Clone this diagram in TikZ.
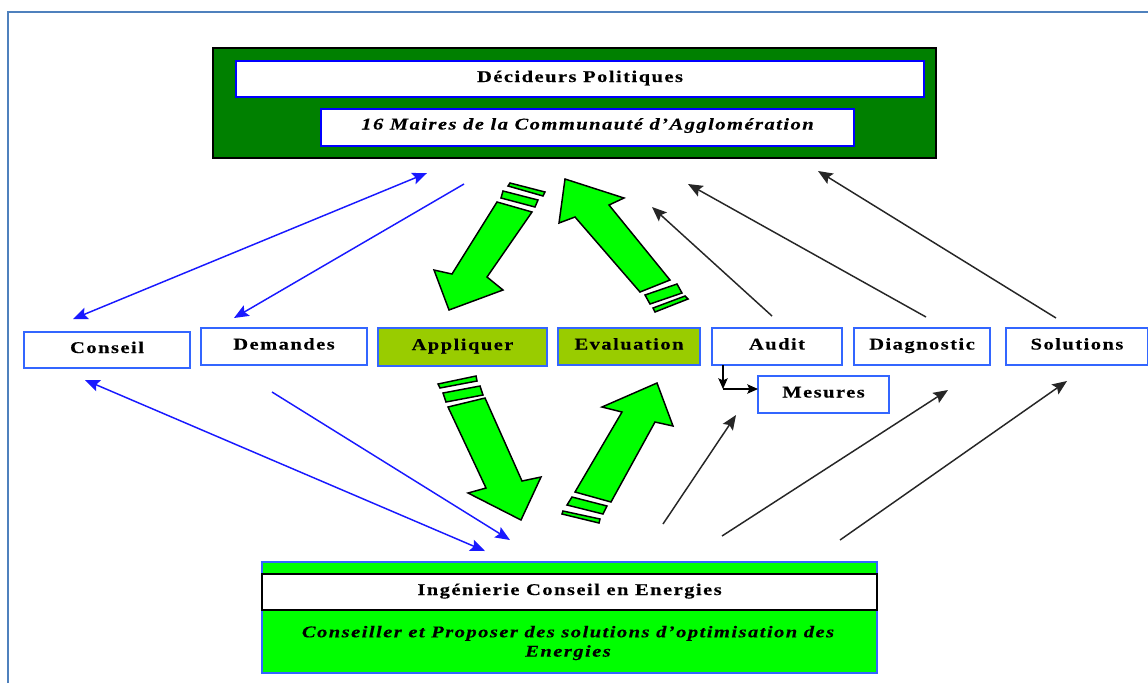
\documentclass[tikz,border=0pt]{standalone}
\usepackage{fontspec}
\setmainfont[FakeStretch=1.25,LetterSpace=9,FakeBold=0.25]{Liberation Serif}
\usetikzlibrary{arrows.meta}
\definecolor{framec}{HTML}{4F81BD}
\definecolor{boxb}{HTML}{3366FF}
\definecolor{olivef}{HTML}{99CC00}
\definecolor{darkg}{HTML}{008000}
\definecolor{brightg}{HTML}{00FF00}
\tikzset{
  every node/.style={outer sep=0pt},
  lab/.style={font=\fontsize{12.3}{14}\selectfont\bfseries,text height=8.5pt,text depth=4pt},
  ital/.style={font=\fontsize{12.3}{14}\selectfont\bfseries\itshape},
  plainbox/.style={draw=boxb,line width=1.5pt,fill=white,anchor=north west,inner sep=0pt,lab},
  olivebox/.style={plainbox,fill=olivef},
  panelbox/.style={draw=blue,line width=1.5pt,fill=white,anchor=north west,inner sep=0pt},
  blockarrow/.style={draw=black,line width=1.1pt,fill=brightg,line join=miter},
  bluelink/.style={draw=blue!90!white,line width=1.1pt,-{Stealth[length=11pt,width=9pt,inset=2pt]}},
  bluedouble/.style={draw=blue!90!white,line width=1.1pt,{Stealth[length=11pt,width=9pt,inset=2pt]}-{Stealth[length=11pt,width=9pt,inset=2pt]}},
  blacklink/.style={draw=black!85,line width=1.1pt,-{Stealth[length=11pt,width=9pt,inset=2pt]}},
  shortlink/.style={draw=black,line width=1.2pt,-{Stealth[length=8pt,width=7pt,inset=1.5pt]}},
}
\begin{document}
\begin{tikzpicture}[x=0.75pt,y=-0.75pt]
\useasboundingbox (0,0) rectangle (1148,683);
\fill[white] (0,0) rectangle (1148,683);
\draw[framec,line width=1.7pt] (8,683) -- (8,12) -- (1148,12);
% top panel
\node[draw=black,line width=1.5pt,fill=darkg,anchor=north west,minimum width=723*0.75pt,minimum height=110*0.75pt,inner sep=0pt] (top) at (213,48) {};
\node[panelbox,lab,minimum width=688*0.75pt,minimum height=36*0.75pt] (dec) at (236,61) {Décideurs Politiques};
\node[panelbox,ital,text height=8.5pt,text depth=5.5pt,minimum width=533*0.75pt,minimum height=37*0.75pt] (mai) at (321,109) {16 Maires de la Communauté d’Agglomération};
% middle boxes
\node[plainbox,minimum width=166*0.75pt,minimum height=36*0.75pt] (conseil) at (24,332) {Conseil};
\node[plainbox,minimum width=166*0.75pt,minimum height=37*0.75pt] (dem) at (201,328) {Demandes};
\node[olivebox,minimum width=169*0.75pt,minimum height=38*0.75pt] (app) at (378,328) {Appliquer};
\node[olivebox,minimum width=142*0.75pt,minimum height=37*0.75pt] (eva) at (558,328) {Evaluation};
\node[plainbox,minimum width=130*0.75pt,minimum height=37*0.75pt] (aud) at (712,328) {Audit};
\node[plainbox,minimum width=136*0.75pt,minimum height=37*0.75pt] (dia) at (854,328) {Diagnostic};
\node[plainbox,minimum width=142*0.75pt,minimum height=37*0.75pt] (sol) at (1006,328) {Solutions};
\node[plainbox,minimum width=131*0.75pt,minimum height=37*0.75pt] (mes) at (758,376) {Mesures};
% bottom panel
\node[draw=boxb,line width=1.5pt,fill=brightg,anchor=north west,minimum width=615*0.75pt,minimum height=111*0.75pt,inner sep=0pt] (bot) at (262,562) {};
\node[draw=black,line width=1.5pt,fill=white,anchor=north west,minimum width=615*0.75pt,minimum height=36*0.75pt,inner sep=0pt,lab] (ing) at (262,574) {Ingénierie Conseil en Energies};
\node[anchor=center,align=center,inner sep=0pt,font=\fontsize{12.3}{14.5}\selectfont\bfseries\itshape] (cons) at (568,643) {Conseiller et Proposer des solutions d’optimisation des\\Energies};
% free ends
\coordinate (a1) at (427,173); \coordinate (a2) at (73,319);
\coordinate (b1) at (464,184); \coordinate (b2) at (234,318);
\coordinate (c1) at (85,380);  \coordinate (c2) at (485,551);
\coordinate (d1) at (272,392); \coordinate (d2) at (510,540);
\coordinate (e1) at (772,316); \coordinate (e2) at (652,207);
\coordinate (f1) at (926,317); \coordinate (f2) at (688,184);
\coordinate (g1) at (1056,318);\coordinate (g2) at (818,171);
\coordinate (h1) at (663,524); \coordinate (h2) at (736,415);
\coordinate (i1) at (722,536); \coordinate (i2) at (948,390);
\coordinate (j1) at (840,540); \coordinate (j2) at (1067,381);
\coordinate (k1) at (723,389);
\draw[bluedouble] (a1) -- (a2);
\draw[bluelink] (b1) -- (b2);
\draw[bluedouble] (c1) -- (c2);
\draw[bluelink] (d1) -- (d2);
\draw[blacklink] (e1) -- (e2);
\draw[blacklink] (f1) -- (f2);
\draw[blacklink] (g1) -- (g2);
\draw[blacklink] (h1) -- (h2);
\draw[blacklink] (i1) -- (i2);
\draw[blacklink] (j1) -- (j2);
\draw[shortlink] (aud.south west -| k1) -- (k1);
\draw[shortlink] (k1) -- (k1 -| mes.west);
% block arrow 1
\draw[blockarrow] (497,202) -- (532,212) -- (487,277) -- (503,290) -- (449,310) -- (434,270) -- (452,274) -- cycle;
\draw[blockarrow] (503,191) -- (538,200) -- (535,207) -- (501,198) -- cycle;
\draw[blockarrow] (510,183) -- (545,192) -- (543,196) -- (508,186) -- cycle;
% block arrow 2
\draw[blockarrow] (565,179) -- (624,198) -- (609,205) -- (670,280) -- (640,292) -- (575,217) -- (559,223) -- cycle;
\draw[blockarrow] (645,295) -- (677,284) -- (682,293) -- (650,304) -- cycle;
\draw[blockarrow] (653,308) -- (685,296) -- (688,299) -- (655,312) -- cycle;
% block arrow 3
\draw[blockarrow] (448,407) -- (485,398) -- (522,481) -- (541,477) -- (521,520) -- (468,493) -- (486,488) -- cycle;
\draw[blockarrow] (443,393) -- (480,386) -- (483,395) -- (446,402) -- cycle;
\draw[blockarrow] (438,384) -- (476,376) -- (477,381) -- (440,388) -- cycle;
% block arrow 4
\draw[blockarrow] (657,383) -- (673,426) -- (655,422) -- (611,502) -- (575,492) -- (622,412) -- (602,407) -- cycle;
\draw[blockarrow] (572,497) -- (607,506) -- (603,514) -- (567,505) -- cycle;
\draw[blockarrow] (563,511) -- (600,519) -- (599,523) -- (562,514) -- cycle;
\end{tikzpicture}
\end{document}
